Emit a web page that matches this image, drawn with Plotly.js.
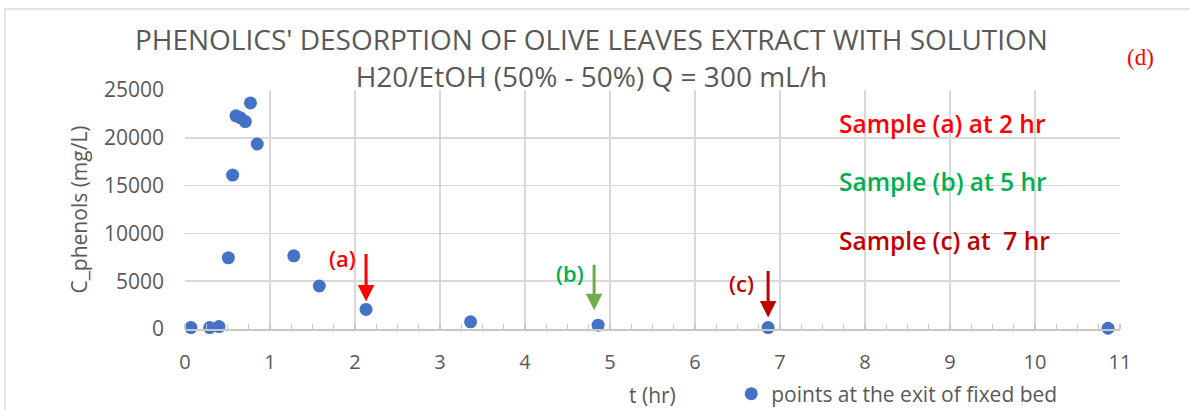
<!DOCTYPE html>
<html>
<head>
<meta charset="utf-8">
<script src="https://cdn.plot.ly/plotly-3.0.1.min.js"></script>
<style>
  html, body { margin: 0; padding: 0; background: #ffffff; }
  #chart { width: 1190px; height: 410px; }
</style>
</head>
<body>
<div id="chart"></div>
<script>
// Outlet measurements of the fixed bed: elution time (hr) and phenolic concentration (mg/L)
const timeHr = [0.07, 0.29, 0.40, 0.51, 0.56, 0.60, 0.65, 0.71, 0.77, 0.85, 1.28, 1.58, 2.13, 3.36, 4.86, 6.86, 10.86];
const cPhenols = [150, 150, 250, 7450, 16100, 22300, 22100, 21700, 23650, 19350, 7650, 4500, 2050, 750, 400, 150, 80];

// Sampled fractions: label, index of the marked point, colours
const sampleLabels = ['(a)', '(b)', '(c)'];
const samplePointIdx = [12, 14, 15];
const sampleTextColors = ['#FF0000', '#00B050', '#C00000'];
const sampleArrowColors = ['#FF0000', '#70AD47', '#C00000'];
const sampleNotes = ['Sample (a) at 2 hr', 'Sample (b) at 5 hr', 'Sample (c) at  7 hr'];

const xTicks = [0, 1, 2, 3, 4, 5, 6, 7, 8, 9, 10, 11];
const yTicks = [0, 5000, 10000, 15000, 20000, 25000];
const xTitle = 't (hr)';
const yTitle = 'C_phenols (mg/L)';

const FONT = '"Open Sans", "Liberation Sans", sans-serif';
const GREY = '#595959';

const trace = {
  type: 'scatter',
  mode: 'markers',
  x: timeHr,
  y: cPhenols,
  name: 'points at the exit of fixed bed',
  cliponaxis: false,
  marker: { color: '#4472C4', size: 13 },
  hoverinfo: 'x+y'
};

const annotations = [];

// arrows pointing down at the sampled points, with their short labels
const arrowGeom = [
  { ay: -57, standoff: 8, xshift: 0, lx: -24, ly: -51 },
  { ay: -62, standoff: 15, xshift: -4, lx: -28, ly: -52 },
  { ay: -58, standoff: 10, xshift: 0, lx: -27, ly: -45 }
];
sampleLabels.forEach((lab, i) => {
  const k = samplePointIdx[i];
  const g = arrowGeom[i];
  annotations.push({
    x: timeHr[k], y: cPhenols[k], xref: 'x', yref: 'y',
    text: '', showarrow: true,
    axref: 'pixel', ayref: 'pixel', ax: 0, ay: g.ay,
    arrowhead: 2, arrowsize: 1.1, arrowwidth: 3,
    arrowcolor: sampleArrowColors[i], standoff: g.standoff,
    xshift: g.xshift
  });
  annotations.push({
    x: timeHr[k], y: cPhenols[k], xref: 'x', yref: 'y',
    text: lab, showarrow: false,
    xshift: g.lx, yshift: -g.ly,
    font: { family: FONT, size: 22, weight: 600, color: sampleTextColors[i] }
  });
});

// notes at the upper right of the plot
const noteY = [21500, 15400, 9300];
sampleNotes.forEach((t, i) => {
  annotations.push({
    x: 7.67, y: noteY[i], xref: 'x', yref: 'y',
    xanchor: 'left', yanchor: 'middle', showarrow: false,
    text: t,
    font: { family: FONT, size: 24.5, weight: 600, color: sampleTextColors[i] }
  });
});

// x-axis title, placed below the tick labels
annotations.push({
  x: 0.5, y: -0.276, xref: 'paper', yref: 'paper',
  xanchor: 'center', yanchor: 'middle', showarrow: false,
  text: xTitle,
  font: { family: FONT, size: 21, color: GREY }
});

// panel letter
annotations.push({
  x: 1.0214, y: 1.138, xref: 'paper', yref: 'paper',
  xanchor: 'center', yanchor: 'middle', showarrow: false,
  text: '(d)',
  font: { family: '"Liberation Serif", "Times New Roman", serif', size: 23, color: '#FF0000' }
});

const layout = {
  width: 1190,
  height: 410,
  margin: { l: 185, r: 70, t: 90, b: 81 },
  paper_bgcolor: '#ffffff',
  plot_bgcolor: '#ffffff',
  font: { family: FONT, color: GREY },
  title: {
    text: "PHENOLICS' DESORPTION OF OLIVE LEAVES EXTRACT WITH SOLUTION<br>H20/EtOH (50% - 50%) Q = 300 mL/h",
    font: { family: FONT, size: 28, color: GREY },
    x: 0.497, xanchor: 'center',
    y: 0.877, yanchor: 'middle'
  },
  xaxis: {
    range: [0, 11],
    tickvals: xTicks,
    showgrid: true, gridcolor: '#d9d9d9', gridwidth: 1.5,
    zeroline: false,
    showline: true, linecolor: '#c8c8c8', linewidth: 1.5,
    ticks: '', ticklabelstandoff: 14,
    tickfont: { family: FONT, size: 20, color: GREY },
    minor: { dtick: 0.25, ticks: 'inside', ticklen: 5, tickcolor: '#c8c8c8', tickwidth: 1.2, showgrid: false },
    automargin: false,
    fixedrange: true
  },
  yaxis: {
    range: [0, 25000],
    tickvals: yTicks,
    tickformat: 'd',
    showgrid: true, gridcolor: '#d9d9d9', gridwidth: 1.5,
    zeroline: false,
    showline: false,
    ticks: '', ticklabelstandoff: 20,
    tickfont: { family: FONT, size: 21, color: GREY },
    title: { text: yTitle, font: { family: FONT, size: 21, color: GREY }, standoff: 10 },
    automargin: false,
    fixedrange: true
  },
  showlegend: true,
  legend: {
    orientation: 'h',
    xref: 'container', yref: 'container',
    x: 0.6145, xanchor: 'left',
    y: 0.039, yanchor: 'middle',
    font: { family: FONT, size: 21, color: GREY },
    bgcolor: 'rgba(0,0,0,0)'
  },
  shapes: [
    // chart frame
    {
      type: 'rect', xref: 'paper', yref: 'paper',
      x0: -0.1925, x1: 1.12, y0: -0.40, y1: 1.3389,
      line: { color: '#e3e3e3', width: 2 },
      fillcolor: 'rgba(0,0,0,0)', layer: 'below'
    }
  ],
  annotations: annotations
};

Plotly.newPlot('chart', [trace], layout, { displayModeBar: false, staticPlot: true });
</script>
</body>
</html>
